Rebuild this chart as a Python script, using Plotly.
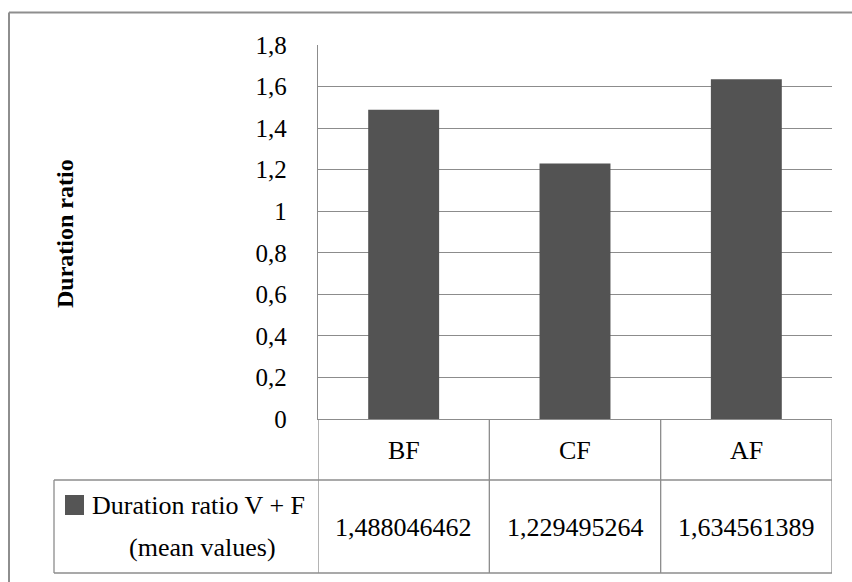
import plotly.graph_objects as go

categories = ["BF", "CF", "AF"]
values = [1.488046462, 1.229495264, 1.634561389]
value_labels = ["1,488046462", "1,229495264", "1,634561389"]
series_name_line1 = "Duration ratio V + F"
series_name_line2 = "(mean values)"
y_title = "Duration ratio"
tick_vals = [0, 0.2, 0.4, 0.6, 0.8, 1.0, 1.2, 1.4, 1.6, 1.8]
tick_text = ["0", "0,2", "0,4", "0,6", "0,8", "1", "1,2", "1,4", "1,6", "1,8"]

W, H = 852, 582
L, R, T, B = 318, 832, 45, 419  # plot-area pixel box


def px(x):
    return (x - L) / (R - L)


def py(y):
    return (B - y) / (B - T)


FONT = "Liberation Serif, Times New Roman, serif"
LINE = "#8c8c8c"

fig = go.Figure()
fig.add_trace(go.Bar(
    x=categories, y=values,
    marker=dict(color="#535353", line=dict(width=0)),
    showlegend=False, hoverinfo="skip",
))

shapes = []
# outer chart border (top and left edges visible)
shapes.append(dict(type="line", xref="paper", yref="paper",
                   x0=px(9), x1=px(W), y0=py(12.5), y1=py(12.5),
                   line=dict(color="#8e8e8e", width=2)))
shapes.append(dict(type="line", xref="paper", yref="paper",
                   x0=px(9), x1=px(9), y0=py(12.5), y1=py(H),
                   line=dict(color="#8e8e8e", width=2)))
# table: vertical column lines (from category boundaries)
n = len(categories)
for k in range(n + 1):
    shapes.append(dict(type="line", xref="x", yref="paper",
                       x0=k - 0.5, x1=k - 0.5, y0=py(B), y1=py(573),
                       line=dict(color=LINE, width=1.3)))
# table horizontal lines
shapes.append(dict(type="line", xref="paper", yref="paper",
                   x0=px(54), x1=1, y0=py(480), y1=py(480),
                   line=dict(color=LINE, width=1.3)))
shapes.append(dict(type="line", xref="paper", yref="paper",
                   x0=px(54), x1=1, y0=py(573), y1=py(573),
                   line=dict(color=LINE, width=1.3)))
shapes.append(dict(type="line", xref="paper", yref="paper",
                   x0=px(54), x1=px(54), y0=py(480), y1=py(573),
                   line=dict(color=LINE, width=1.3)))
# legend key
shapes.append(dict(type="rect", xref="paper", yref="paper",
                   x0=px(65), x1=px(84), y0=py(515), y1=py(495),
                   fillcolor="#555555", line=dict(width=0)))

TF = dict(family=FONT, size=26, color="black")
annotations = []
for c, lab in zip(categories, value_labels):
    annotations.append(dict(x=c, xref="x", y=py(450), yref="paper",
                            text=c, showarrow=False, xanchor="center",
                            yanchor="middle", font=TF))
    annotations.append(dict(x=c, xref="x", y=py(527), yref="paper",
                            text=lab, showarrow=False, xanchor="center",
                            yanchor="middle", font=TF))
annotations.append(dict(x=px(90), xref="paper", y=py(505), yref="paper",
                        text=series_name_line1, showarrow=False, xanchor="left",
                        yanchor="middle", font=TF))
annotations.append(dict(x=px(202), xref="paper", y=py(547), yref="paper",
                        text=series_name_line2, showarrow=False, xanchor="center",
                        yanchor="middle", font=TF))
annotations.append(dict(x=px(65), xref="paper", y=py(234), yref="paper",
                        text="<b>" + y_title + "</b>", textangle=-90, showarrow=False,
                        xanchor="center", yanchor="middle",
                        font=dict(family=FONT, size=24, color="black")))

fig.update_layout(
    width=W, height=H,
    margin=dict(l=L, r=W - R, t=T, b=H - B, pad=0),
    paper_bgcolor="white", plot_bgcolor="white",
    bargap=0.586,
    font=dict(family=FONT, size=26, color="black"),
    shapes=shapes, annotations=annotations,
    xaxis=dict(showticklabels=False, showgrid=False, zeroline=False,
               showline=True, linecolor=LINE, linewidth=1.3,
               range=[-0.5, n - 0.5], fixedrange=True),
    yaxis=dict(range=[0, 1.8], tickvals=tick_vals, ticktext=tick_text,
               showgrid=True, gridcolor=LINE, gridwidth=1.3,
               zeroline=False, showline=True, linecolor=LINE, linewidth=1.3,
               ticks="", ticklabelstandoff=25,
               tickfont=dict(family=FONT, size=25, color="black"),
               fixedrange=True),
)

fig.write_html("out.html")
